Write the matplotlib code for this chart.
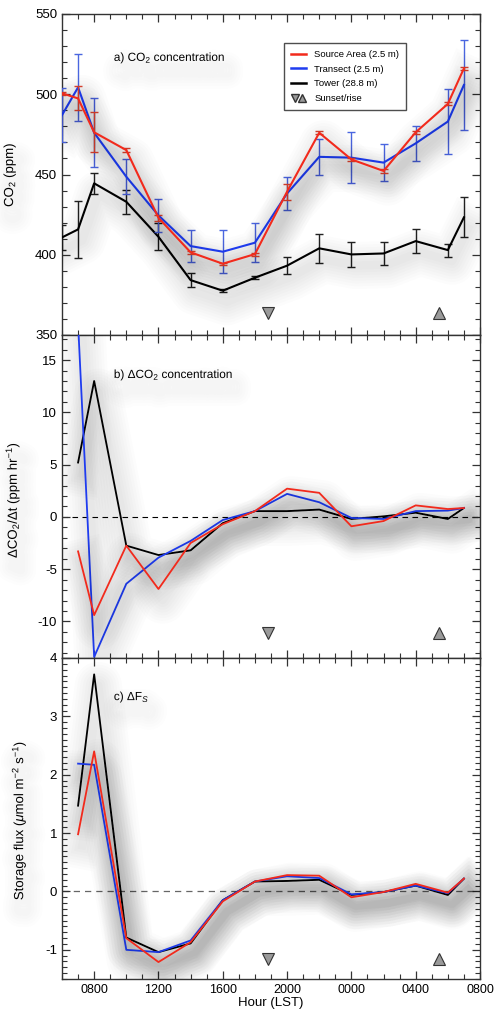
import matplotlib
matplotlib.use('Agg')
import matplotlib.pyplot as plt
import matplotlib.patheffects as pe
from matplotlib.lines import Line2D
from matplotlib.legend_handler import HandlerTuple
from matplotlib.ticker import MultipleLocator, FixedLocator

plt.rcParams['font.family'] = ['Liberation Sans', 'DejaVu Sans']
plt.rcParams['axes.unicode_minus'] = False
plt.rcParams['mathtext.fontset'] = 'custom'
plt.rcParams['mathtext.rm'] = 'Liberation Sans'
plt.rcParams['mathtext.it'] = 'Liberation Sans:italic'

# hours since midnight of the first day (24 = 0000 next day)
hours_a = [6, 7, 8, 10, 12, 14, 16, 18, 20, 22, 24, 26, 28, 30, 31]
hours_bc = [7, 8, 10, 12, 14, 16, 18, 20, 22, 24, 26, 28, 30, 31]

# a) CO2 concentration (ppm) and error bars
co2_src = [500.6, 497.4, 476.3, 465.2, 423.0, 401.5, 394.4, 400.4, 439.3, 476.0, 459.4, 452.2, 476.3, 494.0, 516.1]
co2_tra = [487.0, 504.3, 476.0, 448.6, 424.5, 405.4, 401.9, 407.5, 438.2, 461.0, 460.5, 457.4, 469.4, 483.0, 505.8]
co2_tow = [410.8, 415.8, 444.5, 433.0, 411.2, 384.2, 377.6, 385.7, 393.2, 404.0, 400.2, 400.8, 408.5, 402.9, 423.3]
err_src = [1, 7.5, 12.5, 1, 2, 1, 0.5, 1, 5, 1, 1, 1, 1, 1, 1]
err_tra = [17, 21, 21.6, 10.8, 10.5, 10, 13.5, 12, 10.5, 11, 16, 11.3, 11, 20, 28]
err_tow = [8, 18, 6.5, 7.5, 8.5, 4.2, 1, 1, 5.4, 9, 8, 7.3, 7.7, 4, 12.4]

# b) dCO2/dt (ppm hr-1)
rate_src = [-3.3, -9.4, -2.75, -6.9, -2.5, -0.7, 0.55, 2.7, 2.3, -0.9, -0.4, 1.1, 0.75, 0.85]
rate_tra = [18.5, -13.4, -6.4, -3.9, -2.3, -0.3, 0.55, 2.2, 1.4, -0.1, -0.2, 0.55, 0.6, 0.85]
rate_tow = [5.2, 13.0, -2.75, -3.65, -3.2, -0.6, 0.55, 0.55, 0.7, -0.2, 0.05, 0.4, -0.2, 0.85]

# c) storage flux (umol m-2 s-1)
flux_src = [0.98, 2.4, -0.8, -1.21, -0.87, -0.17, 0.17, 0.28, 0.27, -0.1, -0.01, 0.13, -0.02, 0.22]
flux_tra = [2.19, 2.17, -1.0, -1.04, -0.84, -0.15, 0.17, 0.26, 0.23, -0.05, -0.01, 0.1, -0.03, 0.22]
flux_tow = [1.47, 3.72, -0.79, -1.04, -0.89, -0.15, 0.17, 0.18, 0.2, -0.06, -0.01, 0.1, -0.06, 0.22]

sunset = 18.8
sunrise = 29.45

xticks = [8, 12, 16, 20, 24, 28, 32]
xlabels = ['0800', '1200', '1600', '2000', '0000', '0400', '0800']

RED = '#f22a1c'
BLUE = '#1f3cf0'
BLACK = '#000000'

# soft blurred drop shadow, built from many faint strokes
shadow = [pe.SimpleLineShadow(offset=(3, -8), shadow_color='k', alpha=0.011, linewidth=w)
          for w in range(34, 4, -4)] + [pe.Normal()]
text_shadow = [pe.SimpleLineShadow(offset=(3, -9), shadow_color='k', alpha=0.008, linewidth=w)
               for w in range(22, 4, -4)] + [pe.Normal()]

fig = plt.figure(figsize=(4.96, 10.14), dpi=100)
L, R = 62 / 496, 480 / 496
tops = [14, 335, 658]
bots = [335, 658, 979]
axes = []
for t, b in zip(tops, bots):
    ax = fig.add_axes([L, 1 - b / 1014, R - L, (b - t) / 1014])
    axes.append(ax)
ax_a, ax_b, ax_c = axes

for ax in axes:
    ax.set_xlim(6, 32)
    ax.xaxis.set_major_locator(FixedLocator(xticks))
    ax.xaxis.set_minor_locator(MultipleLocator(1))
    ax.tick_params(which='both', direction='in', top=True, right=True, colors='#333333',
                   labelcolor='black', labelsize=9.5)
    ax.tick_params(which='major', length=6, width=0.9)
    ax.tick_params(which='minor', length=3.5, width=0.8)
    for s in ax.spines.values():
        s.set_color('#333333')
        s.set_linewidth(1.0)
    ax.set_xticklabels([])

# ---- panel a
ax = ax_a
for y, e, c, ec, z in [(co2_tow, err_tow, BLACK, '#222222', 3),
                       (co2_tra, err_tra, BLUE, '#4a66e0', 4),
                       (co2_src, err_src, RED, '#d8402e', 5)]:
    ax.errorbar(hours_a, y, yerr=e, fmt='none', ecolor=ec, elinewidth=1.0,
                capsize=3, capthick=1.0, zorder=z)
    ax.plot(hours_a, y, color=c, lw=1.5, zorder=z + 0.5, path_effects=shadow)
ax.set_ylim(350, 550)
ax.yaxis.set_major_locator(MultipleLocator(50))
ax.yaxis.set_minor_locator(MultipleLocator(10))
ax.set_ylabel('CO$_2$ (ppm)', fontsize=9.5, path_effects=text_shadow)
ax.yaxis.set_label_coords(-0.105, 0.5)
ax.text(0.124, 0.863, 'a) CO$_2$ concentration', transform=ax.transAxes, fontsize=8.5,
        va='center', path_effects=text_shadow)

handles = [Line2D([], [], color=RED, lw=1.8),
           Line2D([], [], color=BLUE, lw=1.8),
           Line2D([], [], color=BLACK, lw=1.8),
           (Line2D([], [], marker='v', ls='none', mfc='#9a9a9a', mec='#333333', ms=5.5),
            Line2D([], [], marker='^', ls='none', mfc='#9a9a9a', mec='#333333', ms=5.5))]
labels = ['Source Area (2.5 m)', 'Transect (2.5 m)', 'Tower (28.8 m)', 'Sunset/rise']
leg = ax.legend(handles, labels, loc='upper left', bbox_to_anchor=(0.519, 0.925),
                fontsize=6.8, frameon=True, fancybox=False, edgecolor='#222222',
                handlelength=1.6, handletextpad=0.9, borderpad=0.75, labelspacing=0.6,
                handler_map={tuple: HandlerTuple(ndivide=None, pad=-0.15)})
leg.get_frame().set_linewidth(1.0)
leg.set_zorder(10)

# ---- panel b
ax = ax_b
ax.axhline(0, color='k', lw=0.8, dashes=(5, 4), zorder=1)
for y, c, z in [(rate_tow, BLACK, 3), (rate_tra, BLUE, 4), (rate_src, RED, 5)]:
    ax.plot(hours_bc, y, color=c, lw=1.3, zorder=z, path_effects=shadow)
ax.set_ylim(-13.5, 17.4)
ax.yaxis.set_major_locator(FixedLocator([-10, -5, 0, 5, 10, 15]))
ax.yaxis.set_minor_locator(MultipleLocator(1))
ax.set_ylabel('$\\Delta$CO$_2$/$\\Delta$t (ppm hr$^{-1}$)', fontsize=9.5, path_effects=text_shadow)
ax.yaxis.set_label_coords(-0.096, 0.49)
ax.text(0.124, 0.876, 'b) $\\Delta$CO$_2$ concentration', transform=ax.transAxes, fontsize=8.5,
        va='center', path_effects=text_shadow)

# ---- panel c
ax = ax_c
ax.axhline(0, color='#666666', lw=0.9, dashes=(5, 4), zorder=1)
for y, c, z in [(flux_tow, BLACK, 3), (flux_tra, BLUE, 4), (flux_src, RED, 5)]:
    ax.plot(hours_bc, y, color=c, lw=1.3, zorder=z, path_effects=shadow)
ax.set_ylim(-1.5, 4)
ax.yaxis.set_major_locator(MultipleLocator(1))
ax.yaxis.set_minor_locator(MultipleLocator(0.1))
ax.set_ylabel('Storage flux ($\\mu$mol m$^{-2}$ s$^{-1}$)', fontsize=9.5, path_effects=text_shadow)
ax.yaxis.set_label_coords(-0.081, 0.495)
ax.text(0.124, 0.878, 'c) $\\Delta$F$_S$', transform=ax.transAxes, fontsize=8.5,
        va='center', path_effects=text_shadow)
ax.set_xticklabels(xlabels, fontsize=9)
ax.set_xlabel('Hour (LST)', fontsize=9.5, labelpad=1)

# sunset / sunrise markers
for ax, yf in zip(axes, [0.069, 0.078, 0.062]):
    tr = ax.get_xaxis_transform()
    ax.plot([sunset], [yf], marker='v', ms=8, mfc='#9a9a9a', mec='#333333', mew=0.8,
            ls='none', transform=tr, zorder=6, clip_on=False)
    ax.plot([sunrise], [yf], marker='^', ms=8, mfc='#9a9a9a', mec='#333333', mew=0.8,
            ls='none', transform=tr, zorder=6, clip_on=False)

fig.savefig('out.png', dpi=100)
